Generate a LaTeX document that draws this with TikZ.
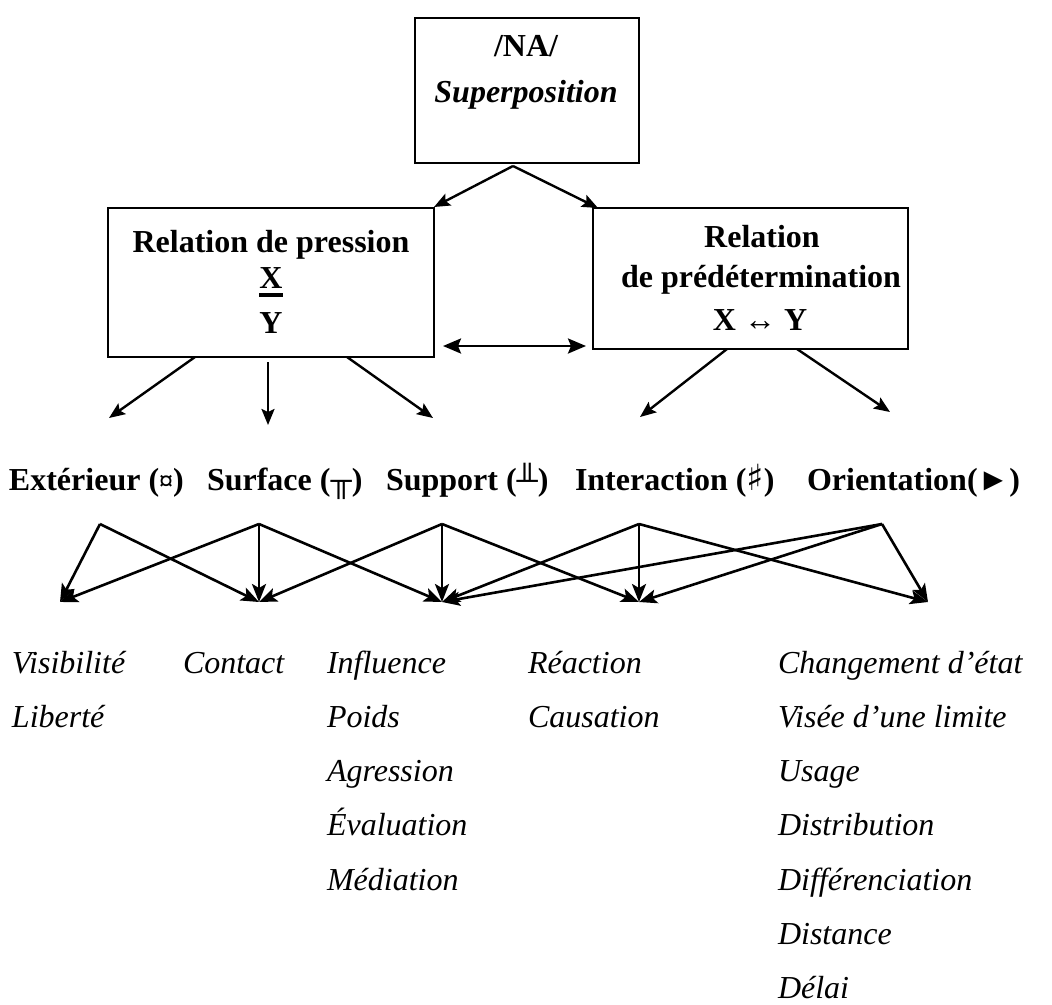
\documentclass[tikz,border=0pt]{standalone}
\usepackage{fontspec}
\setmainfont{Liberation Serif}
\newfontfamily\symfont{DejaVu Sans}
\usetikzlibrary{arrows.meta}
\begin{document}
\begin{tikzpicture}[x=1pt,y=-1pt,
  every node/.style={font=\fontsize{32}{38}\selectfont, inner sep=0pt, outer sep=0pt},
  boxst/.style={draw, line width=2.3pt, rectangle},
  boxtext/.style={anchor=base, font=\fontsize{32}{38}\selectfont\bfseries},
  conn/.style={line width=2.6pt, -{Stealth[length=18pt,width=14pt,inset=4pt]}},
  topconn/.style={line width=2.4pt, -{Stealth[length=16pt,width=13pt,inset=3pt]}},
  biconn/.style={line width=2.6pt, {Stealth[length=18pt,width=15pt,inset=3pt]}-{Stealth[length=18pt,width=15pt,inset=3pt]}},
  rowlab/.style={anchor=base west, font=\fontsize{32}{38}\selectfont\bfseries},
  item/.style={anchor=base west, font=\fontsize{32}{38}\selectfont\itshape}
]
\useasboundingbox (0,0) rectangle (1052,1004);

% boxes
\node[boxst, minimum width=224pt, minimum height=145pt] (top) at (527,90.5) {};
\node[boxst, minimum width=326pt, minimum height=149pt] (left) at (271,282.5) {};
\node[boxst, minimum width=315pt, minimum height=141pt] (right) at (750.5,278.5) {};

% box texts
\node[boxtext] (na) at (526,56) {/NA/};
\node[boxtext, font=\fontsize{32}{38}\selectfont\bfseries\itshape] (sup) at (526,102) {Superposition};
\node[boxtext] (lt1) at (271,252) {Relation de pression};
\node[boxtext] (lt2) at (271,288) {X};
\draw[line width=3.2pt] ([yshift=-7pt]lt2.base west) -- ([yshift=-7pt]lt2.base east);
\node[boxtext] (lt3) at (271,333) {Y};
\node[boxtext] (rt1) at (762,247) {Relation};
\node[boxtext] (rt2) at (761,287) {de prédétermination};
\node[boxtext] (rt3) at (760,330) {X {\mdseries↔} Y};

% top connectors
\coordinate (apex) at (513,166);
\coordinate (lTR) at (434,207);
\coordinate (rTL) at (598,208);
\draw[topconn] (apex) -- (lTR);
\draw[topconn] (apex) -- (rTL);

% double arrow
\coordinate (dL) at (443,346);
\coordinate (dR) at (586,346);
\draw[biconn] (dL) -- (dR);

% from left box
\coordinate (l1) at (195,357);
\coordinate (l2) at (268,362);
\coordinate (l3) at (347,357);
\coordinate (l1t) at (109,418);
\coordinate (l2t) at (268,425);
\coordinate (l3t) at (433,418);
\draw[topconn] (l1) -- (l1t);
\draw[topconn] (l2) -- (l2t);
\draw[topconn] (l3) -- (l3t);

% from right box
\coordinate (r1) at (727,349);
\coordinate (r2) at (797,349);
\coordinate (r1t) at (640,417);
\coordinate (r2t) at (890,412);
\draw[topconn] (r1) -- (r1t);
\draw[topconn] (r2) -- (r2t);

% row labels
\node[rowlab] (ext) at (9,490) {Extérieur ({\fontsize{28}{30}\selectfont ¤})};
\node[rowlab] (surf) at (207,490) {Surface ({\mdseries\fontsize{30}{30}\selectfont ╥})};
\node[rowlab] (supp) at (386,490) {Support ({\mdseries\fontsize{30}{30}\selectfont ╨})};
\node[rowlab] (inter) at (575,490) {Interaction ({\fontsize{36}{36}\selectfont\symfont ♯})};
\node[rowlab] (orient) at (807,490) {Orientation({\mdseries\fontsize{32}{32}\selectfont ►})};

% bottom network
\coordinate (aE) at (100,524);
\coordinate (aS) at (259,524);
\coordinate (aP) at (442,524);
\coordinate (aI) at (639,524);
\coordinate (aO) at (882,524);
\coordinate (tE) at (60,602);
\coordinate (tS) at (259,602);
\coordinate (tP) at (442,602);
\coordinate (tI) at (639,602);
\coordinate (tO) at (928,602);
\foreach \a/\b in {aE/tE,aE/tS,aS/tE,aS/tS,aS/tP,aP/tS,aP/tP,aP/tI,aI/tP,aI/tI,aI/tO,aO/tP,aO/tI,aO/tO}
  \draw[conn] (\a) -- (\b);

% lists
\def\rs{54.3}
\node[item] (c1a) at (12,673) {Visibilité};
\node[item] (c1b) at (12,673+\rs) {Liberté};
\node[item] (c2a) at (183,673) {Contact};
\node[item] (c3a) at (327,673) {Influence};
\node[item] (c3b) at (327,673+\rs) {Poids};
\node[item] (c3c) at (327,673+2*\rs) {Agression};
\node[item] (c3d) at (327,673+3*\rs) {Évaluation};
\node[item] (c3e) at (327,673+4*\rs) {Médiation};
\node[item] (c4a) at (528,673) {Réaction};
\node[item] (c4b) at (528,673+\rs) {Causation};
\node[item] (c5a) at (778,673) {Changement d’état};
\node[item] (c5b) at (778,673+\rs) {Visée d’une limite};
\node[item] (c5c) at (778,673+2*\rs) {Usage};
\node[item] (c5d) at (778,673+3*\rs) {Distribution};
\node[item] (c5e) at (778,673+4*\rs) {Différenciation};
\node[item] (c5f) at (778,673+5*\rs) {Distance};
\node[item] (c5g) at (778,673+6*\rs) {Délai};
\end{tikzpicture}
\end{document}
